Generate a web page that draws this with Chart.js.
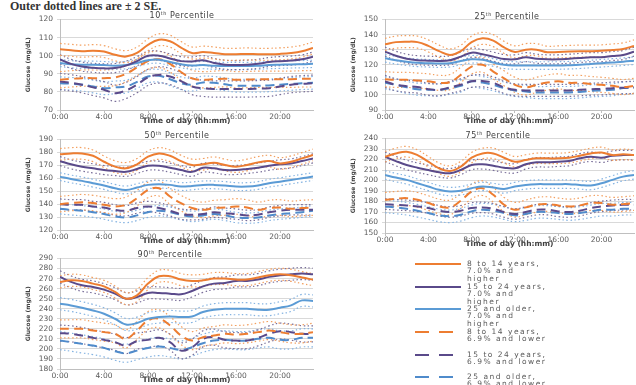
<!DOCTYPE html>
<html>
<head>
<meta charset="utf-8">
<script src="https://cdn.jsdelivr.net/npm/chart.js@4/dist/chart.umd.min.js"></script>
<style>
  html, body { margin: 0; padding: 0; background: #fff; }
  #page { position: relative; width: 636px; height: 385px; overflow: hidden; font-family: 'DejaVu Sans', sans-serif; }
  canvas { position: absolute; }
  .ttl { position: absolute; font-size: 8px; color: #404040; letter-spacing: 0.5px; white-space: nowrap; transform: translate(-50%, -50%); }
  .ttl sup { font-size: 5px; vertical-align: 3px; line-height: 0; }
  #note { position: absolute; left: 10px; top: -1px; font-family: 'Liberation Serif', serif; font-weight: bold; font-size: 12px; color: #333; white-space: nowrap; }
  .lg { position: absolute; left: 0; width: 636px; }
  .lg svg { position: absolute; left: 415px; }
  .lg div { position: absolute; left: 467px; font-size: 7.5px; line-height: 7.3px; color: #5a5a5a; letter-spacing: 1.5px; white-space: nowrap; }
</style>
</head>
<body>
<div id="page">
  <div id="note">Outer dotted lines are ± 2 SE.</div>
  <canvas id="c10"></canvas>
  <canvas id="c25"></canvas>
  <canvas id="c50"></canvas>
  <canvas id="c75"></canvas>
  <canvas id="c90"></canvas>
  <div id="titles"></div>
  <div id="legend"></div>
</div>
<script>
// Hour of day for each reading (0:00 .. 23:00)
const hours = [0,1,2,3,4,5,6,7,8,9,10,11,12,13,14,15,16,17,18,19,20,21,22,23];
const hourTicks = [0, 4, 8, 12, 16, 20];

// Groups: age band + HbA1c category
const groupLabels = [
  ['8 to 14 years,', '7.0% and', 'higher'],
  ['15 to 24 years,', '7.0% and', 'higher'],
  ['25 and older,', '7.0% and', 'higher'],
  ['8 to 14 years,', '6.9% and lower'],
  ['15 to 24 years,', '6.9% and lower'],
  ['25 and older,', '6.9% and lower']
];

// ---- 10th percentile glucose (mg/dL) ----
const p10Age8Hi  = [103.5,103,102.5,102.8,102.3,100.5,99.5,101.5,106,108.8,108,104.5,101.5,102,101.5,100.8,100.8,101,100.8,100.8,101,101.5,102.5,104.3];
const p10Age15Hi = [98,95.5,94,93.3,93,93.2,94.5,97,100,100,98.5,97,96.8,97.5,96,95,94.8,95,95.5,96.5,97,97.3,98,99.5];
const p10Age25Hi = [96,95.3,95,95,94.8,94.5,94.8,96,97.5,97.8,96.5,95.3,94.6,94.8,94.5,94.3,94.3,94.3,94.5,94.8,95,95.2,95.3,95.5];
const p10Age8Lo  = [86.7,87.2,87.6,87.6,87.6,88,90,93.5,97,98,95.5,91,87.5,86.7,87,87.3,86.7,86.8,87,87,87,87,87.2,87.2];
const p10Age15Lo = [85.8,85,84,82.5,81.2,79.3,80.8,84,88,89.4,88.5,86,83,82,81.6,81.6,81.6,81.6,81.8,82,83,84,84.5,84.8];
const p10Age25Lo = [84.8,84.5,84,83,82,82.5,83,85.5,88.5,88.9,87,84.8,84,85.2,85,84.2,83.4,83.4,83.4,83.6,84,84.4,84.8,85];
const p10TwoSE   = [3.3, 2.5, 2, 4.5, 4.5, 3.5];

// ---- 25th percentile ----
const p25Age8Hi  = [133.5,135,135.3,135,132.5,129,126.5,129,135,137.5,136,131.5,128.5,130,130,128.3,128.5,128.8,129,129,129.2,129.8,130.5,132.5];
const p25Age15Hi = [128.7,126,124,123,122.7,122.5,123,125.4,128,127,125.4,123.8,123.6,125,124,123.6,123.6,124,124.5,125,125,125.8,126.5,128.7];
const p25Age25Hi = [124.3,123,122,121.3,121,120.8,121,122.5,123.6,123.3,121.5,120,119.5,119.5,119.5,119.5,119.5,119.7,120,120.5,121,121.5,122,122.7];
const p25Age8Lo  = [110.4,110,110,109.5,109,108,108.5,113.3,118.8,120,115.5,111,106.7,105,106.7,108.2,109,108,108,107.2,106.7,106,105.2,106];
const p25Age15Lo = [109,106.7,105.8,105.2,103.8,103.4,105,106.7,109,109.3,108,105,103.4,103,103,103,103,103,103.4,103.8,104,104.5,104.8,105];
const p25Age25Lo = [108,106.7,105,103.8,103.5,103.3,104.5,106,109,108.2,106.7,104.5,103,102.3,101.6,101.6,101.6,101.6,102,102.7,103,103.4,104.5,105];
const p25TwoSE   = [4, 3, 2.5, 5, 4, 4];

// ---- 50th percentile ----
const p50Age8Hi  = [178.5,179.2,179.2,177.4,172.8,169,167.7,170.8,176.7,179.2,177.4,173.3,170.3,170.8,172,170.3,169,170.3,172.3,173.3,171.5,172.8,175.4,178];
const p50Age15Hi = [173.3,170.8,169,167.7,166.4,165.6,165,167.2,169.7,169.7,168.2,166.4,165,168.2,167.7,166.4,166.4,167.2,168.2,169.7,170.8,171.5,173.3,175.4];
const p50Age25Hi = [161.3,159.5,158,156.2,154.4,152.3,151,152.8,154.9,155.4,154.9,153.6,154.1,154.9,154.9,154.4,153.6,153.6,154.4,156.2,157.4,158.7,160,161.3];
const p50Age8Lo  = [140,140.8,141.5,140.8,139.5,138.2,139.5,144.6,151,152.3,145.9,140.8,137,135.6,137,137.4,138.2,137.4,135.6,137,137.4,136.4,137,137.4];
const p50Age15Lo = [140,139.5,139.5,138.2,137.4,135.6,134.9,137,138.2,137,134.9,132.3,131.8,132.3,133.8,133,132.3,131.3,131.8,133.8,134.9,135.6,135.6,135.6];
const p50Age25Lo = [136.4,135.6,134.9,133.8,132.3,130.5,129.7,131.3,133.8,134.9,133.8,131.8,130.5,131.3,132.3,131.3,129.7,129.2,129.7,131.3,132.3,133,133.8,134.9];
const p50TwoSE   = [4.5, 3.5, 3, 6, 4, 4];

// ---- 75th percentile ----
const p75Age8Hi  = [222.6,225.8,227.4,224.2,217.9,211.6,209,213.2,221.7,225.8,225.8,221.7,217.9,219.5,221.1,221.1,221.1,221.7,223.6,225.8,226.7,224.2,224.9,224.2];
const p75Age15Hi = [222.6,218.5,214.8,212.2,210,207.8,206.9,210,214.8,215.4,214.1,212.2,211.6,215.4,217.3,217.3,217.9,218.5,221.1,222.6,221.7,223.6,224.2,224.2];
const p75Age25Hi = [205.3,202.8,200.6,197.4,194.3,191.1,189.5,190.2,192.7,194.3,193.3,192,194.3,195.8,196.5,196.5,196.5,196.5,195.8,195.2,197.4,200.6,203.7,205.3];
const p75Age8Lo  = [181.6,182.6,183.2,181.6,178.5,175.3,174.4,180.7,189.5,192.7,186.4,176.9,172.2,174.4,176.9,177.5,176.3,175.3,176.3,178.5,178.5,176.9,177.5,178.5];
const p75Age15Lo = [177.5,176.9,176.3,175.3,173.8,171.2,170,171.2,173.8,174.4,173.1,170,168.1,170,172.2,172.2,170.6,170,171.2,173.8,175.3,176.3,176.9,176.9];
const p75Age25Lo = [175.3,174.4,173.1,171.2,169,166.8,165.9,167.4,170.6,172.2,171.2,169,166.8,168.1,170,170,169,168.1,169,170.6,172.2,172.2,173.1,173.1];
const p75TwoSE   = [5, 4.5, 4, 7, 5, 6];

// ---- 90th percentile ----
const p90Age8Hi  = [266.7,268.3,267.7,265,262.3,256.7,250,253.3,265,272.3,272.3,269,267.7,268.3,270,270,269,269,271,273.3,274.3,273.3,271,269];
const p90Age15Hi = [271.7,266.7,263.3,261.7,259,255,250,251.7,255.7,255.7,255,254.3,257.7,262.3,265,265.7,267.7,267.7,269,271.7,273.3,274.3,275,274.3];
const p90Age25Hi = [245,243.3,241,238.3,235,230,224.3,225.7,230,231.7,232.3,231.7,232.3,236.7,239,240,240,240,239,239,241,243.3,248.3,247.7];
const p90Age8Lo  = [220,220,220,218.3,216.7,215,210,218.3,228.3,230,223.3,213.3,208.3,211.7,213.3,215,214.3,215,216.7,218.3,216.7,215,215,216.7];
const p90Age15Lo = [215.7,215,213.3,211,209,206.7,203.3,207.7,209,211,206.7,198.3,201.7,210,211.7,209,208.3,208.3,211,215,217.7,216.7,215,215];
const p90Age25Lo = [208.3,206.7,205,203.3,201,197.7,195.7,198.3,201,202.3,201,199,201.7,205.7,208.3,209,208.3,208.3,210,211,209,209,211,211];
const p90TwoSE   = [6, 6, 6, 9, 8, 9];

// Line styles per group (solid = 7.0%+, dashed = 6.9% and lower)
const groupStyles = [
  { color: '#ED7D31', dot: '#F3A060', dash: [] },
  { color: '#5A4A8A', dot: '#7A6F9A', dash: [] },
  { color: '#5B9BD5', dot: '#86B4E2', dash: [] },
  { color: '#ED7D31', dot: '#F3A060', dash: [9, 5] },
  { color: '#5A4A8A', dot: '#7A6F9A', dash: [9, 5] },
  { color: '#4F8BCB', dot: '#86B4E2', dash: [9, 5] }
];

const panels = [
  { id: 'c10', box: [24, 11, 291, 115],  yMin: 70,  yMax: 120, num: '10', tpos: [182, 15],
    series: [p10Age8Hi, p10Age15Hi, p10Age25Hi, p10Age8Lo, p10Age15Lo, p10Age25Lo], se: p10TwoSE },
  { id: 'c25', box: [349, 11, 287, 115], yMin: 90,  yMax: 150, num: '25', tpos: [507, 16],
    series: [p25Age8Hi, p25Age15Hi, p25Age25Hi, p25Age8Lo, p25Age15Lo, p25Age25Lo], se: p25TwoSE },
  { id: 'c50', box: [24, 131, 291, 115], yMin: 120, yMax: 190, num: '50', tpos: [177, 135],
    series: [p50Age8Hi, p50Age15Hi, p50Age25Hi, p50Age8Lo, p50Age15Lo, p50Age25Lo], se: p50TwoSE },
  { id: 'c75', box: [349, 130, 287, 119], yMin: 150, yMax: 240, num: '75', tpos: [498, 135],
    series: [p75Age8Hi, p75Age15Hi, p75Age25Hi, p75Age8Lo, p75Age15Lo, p75Age25Lo], se: p75TwoSE },
  { id: 'c90', box: [24, 250, 291, 135], yMin: 180, yMax: 290, num: '90', tpos: [170, 254],
    series: [p90Age8Hi, p90Age15Hi, p90Age25Hi, p90Age8Lo, p90Age15Lo, p90Age25Lo], se: p90TwoSE }
];

function toPoints(vals, shift) {
  return vals.map((v, k) => ({ x: hours[k], y: v + shift }));
}

function buildDatasets(series, se) {
  const out = [];
  series.forEach((vals, i) => {
    const st = groupStyles[i];
    out.push({ data: toPoints(vals, 0), borderColor: st.color, borderWidth: 2, borderDash: st.dash, order: 0 });
    out.push({ data: toPoints(vals, se[i]), borderColor: st.dot, borderWidth: 1.2, borderDash: [1.5, 2.5], order: 1 });
    out.push({ data: toPoints(vals, -se[i]), borderColor: st.dot, borderWidth: 1.2, borderDash: [1.5, 2.5], order: 1 });
  });
  return out;
}

const tickFont = { family: 'DejaVu Sans', size: 7.5 };

panels.forEach(p => {
  const cv = document.getElementById(p.id);
  const [l, t, w, h] = p.box;
  cv.width = w; cv.height = h;
  cv.style.left = l + 'px'; cv.style.top = t + 'px';
  cv.style.width = w + 'px'; cv.style.height = h + 'px';

  new Chart(cv, {
    type: 'line',
    data: { datasets: buildDatasets(p.series, p.se) },
    options: {
      responsive: false,
      animation: false,
      devicePixelRatio: 1,
      layout: { padding: { top: 8, right: 2, left: 0, bottom: 0 } },
      plugins: { legend: { display: false }, tooltip: { enabled: false } },
      elements: { point: { radius: 0 }, line: { tension: 0.4 } },
      scales: {
        x: {
          type: 'linear', min: 0, max: 23,
          afterFit: s => { s.height = 16; },
          afterBuildTicks: s => { s.ticks = hourTicks.map(v => ({ value: v })); },
          ticks: { autoSkip: false, maxRotation: 0, padding: 0, font: tickFont, color: '#595959',
                   callback: v => v + ':00' },
          grid: { drawOnChartArea: false, drawTicks: true, tickLength: 3, color: '#bfbfbf' },
          border: { color: '#bfbfbf' },
          title: { display: true, text: 'Time of day (hh:mm)', color: '#404040',
                   font: { family: 'DejaVu Sans', size: 7.5, weight: 'bold' }, padding: { top: 0, bottom: 0 } }
        },
        y: {
          min: p.yMin, max: p.yMax,
          afterFit: s => { s.width = 36; },
          ticks: { stepSize: 10, autoSkip: false, padding: 4, font: tickFont, color: '#595959' },
          grid: { color: '#d9d9d9', tickLength: 3 },
          border: { color: '#bfbfbf' },
          title: { display: true, text: 'Glucose (mg/dL)', color: '#404040',
                   font: { family: 'DejaVu Sans', size: 6, weight: 'bold' }, padding: { top: 1, bottom: 0 } }
        }
      }
    }
  });

  const ttl = document.createElement('div');
  ttl.className = 'ttl';
  ttl.style.left = p.tpos[0] + 'px';
  ttl.style.top = p.tpos[1] + 'px';
  ttl.innerHTML = p.num + '<sup>th</sup> Percentile';
  document.getElementById('titles').appendChild(ttl);
});

// Legend block
const legendY = [264, 287, 309, 332, 355, 377];
const legend = document.getElementById('legend');
groupLabels.forEach((lines, i) => {
  const st = groupStyles[i];
  const row = document.createElement('div');
  row.className = 'lg';
  row.style.top = '0px';
  const dash = st.dash.length ? 'stroke-dasharray="14 10"' : '';
  row.innerHTML =
    '<svg width="46" height="4" style="top:' + (legendY[i] - 2) + 'px">' +
    '<line x1="0" y1="2" x2="46" y2="2" stroke="' + st.color + '" stroke-width="2" ' + dash + '/></svg>' +
    '<div style="top:' + (legendY[i] - 4) + 'px">' + lines.join('<br>') + '</div>';
  legend.appendChild(row);
});
</script>
</body>
</html>
